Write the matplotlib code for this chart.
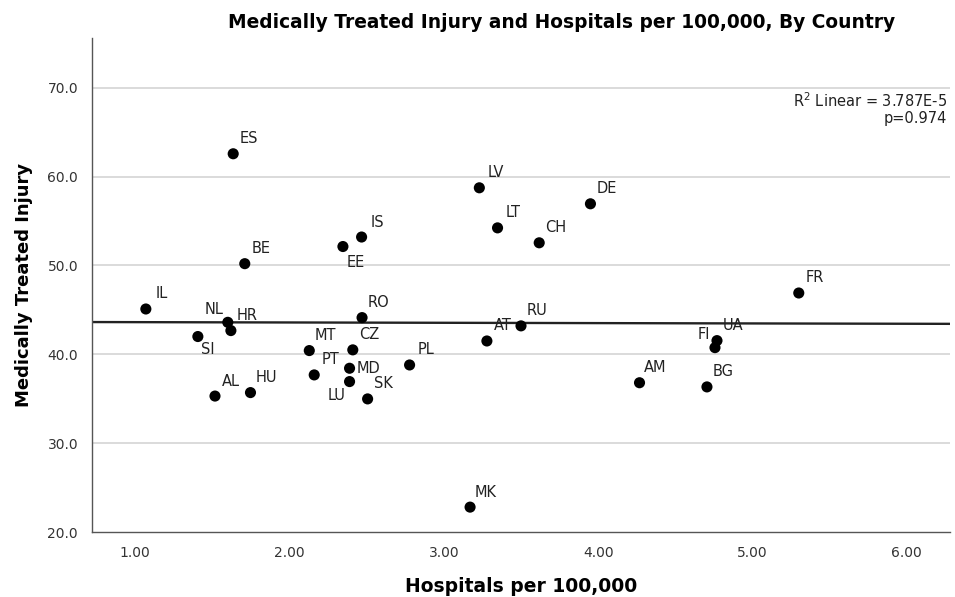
import numpy as np
import matplotlib
matplotlib.use("Agg")
import matplotlib.pyplot as plt

countries = ["ES", "LV", "DE", "LT", "CH", "IS", "EE", "BE", "IL", "FR",
             "RO", "NL", "HR", "SI", "MT", "CZ", "PT", "MD", "LU", "SK",
             "AL", "HU", "PL", "AT", "RU", "UA", "FI", "AM", "BG", "MK"]
hospitals = [1.635, 3.23, 3.95, 3.348, 3.618, 2.467, 2.346, 1.71, 1.069, 5.30,
             2.47, 1.60, 1.62, 1.406, 2.128, 2.41, 2.16, 2.389, 2.389, 2.506,
             1.517, 1.747, 2.778, 3.279, 3.50, 4.77, 4.757, 4.268, 4.705, 3.17]
injury = [62.57, 58.74, 56.94, 54.23, 52.55, 53.2, 52.13, 50.2, 45.1, 46.9,
          44.13, 43.6, 42.67, 42.0, 40.42, 40.5, 37.68, 38.43, 36.93, 34.98,
          35.3, 35.69, 38.8, 41.5, 43.2, 41.54, 40.75, 36.8, 36.33, 22.8]

x_ticks = [1, 2, 3, 4, 5, 6]
y_ticks = [20, 30, 40, 50, 60, 70]
fit_text = "R$^2$ Linear = 3.787E-5\np=0.974"

# label offsets in pixels (default upper-right)
default_off = (16, 15)
special_off = {"EE": (13, -16), "NL": (-14, 13), "SI": (10, -13),
               "MD": (19, 0), "LU": (-13, -14), "FI": (-11, 13)}

fig = plt.figure(figsize=(9.55, 5.97), dpi=100)
ax = fig.add_axes([92/955, 65/597, (950-92)/955, (532-38)/597])

x = np.array(hospitals)
y = np.array(injury)
xlim = (0.72, 6.28)
ylim = (20, 75.6)
ax.set_xlim(*xlim)
ax.set_ylim(*ylim)

for yt in y_ticks[1:]:
    ax.axhline(yt, color="#d4d4d4", lw=1.2, zorder=0)

m, b = np.polyfit(x, y, 1)
xx = np.array(xlim)
ax.plot(xx, m*xx + b, color="#222222", lw=1.7, zorder=2)

ax.scatter(x, y, s=64, color="black", zorder=3, edgecolors="none")

for c, xi, yi in zip(countries, x, y):
    off = special_off.get(c, default_off)
    ax.annotate(c, (xi, yi), xytext=off, textcoords="offset pixels",
                ha="center", va="center", fontsize=10.5, color="#222222",
                family="DejaVu Sans")

ax.set_xticks(x_ticks)
ax.set_xticklabels([f"{v:.2f}" for v in x_ticks])
ax.set_yticks(y_ticks)
ax.set_yticklabels([f"{v:.1f}" for v in y_ticks])
ax.tick_params(length=0, labelsize=10, labelcolor="#333333", pad=10)

for s in ["top", "right"]:
    ax.spines[s].set_visible(False)
for s in ["left", "bottom"]:
    ax.spines[s].set_color("#555555")
    ax.spines[s].set_linewidth(1.0)

ax.text(0.997, 0.893, fit_text, transform=ax.transAxes, ha="right", va="top",
        fontsize=10.5, color="#222222", linespacing=1.15)

ax.set_xlabel("Hospitals per 100,000", fontsize=13.5, fontweight="bold", labelpad=12)
ax.set_ylabel("Medically Treated Injury", fontsize=13, fontweight="bold", labelpad=10)
fig.text(562/955, 1 - 22/597, "Medically Treated Injury and Hospitals per 100,000, By Country",
         ha="center", va="center", fontsize=13.4, fontweight="bold")

fig.savefig("out.png", dpi=100, facecolor="white")
